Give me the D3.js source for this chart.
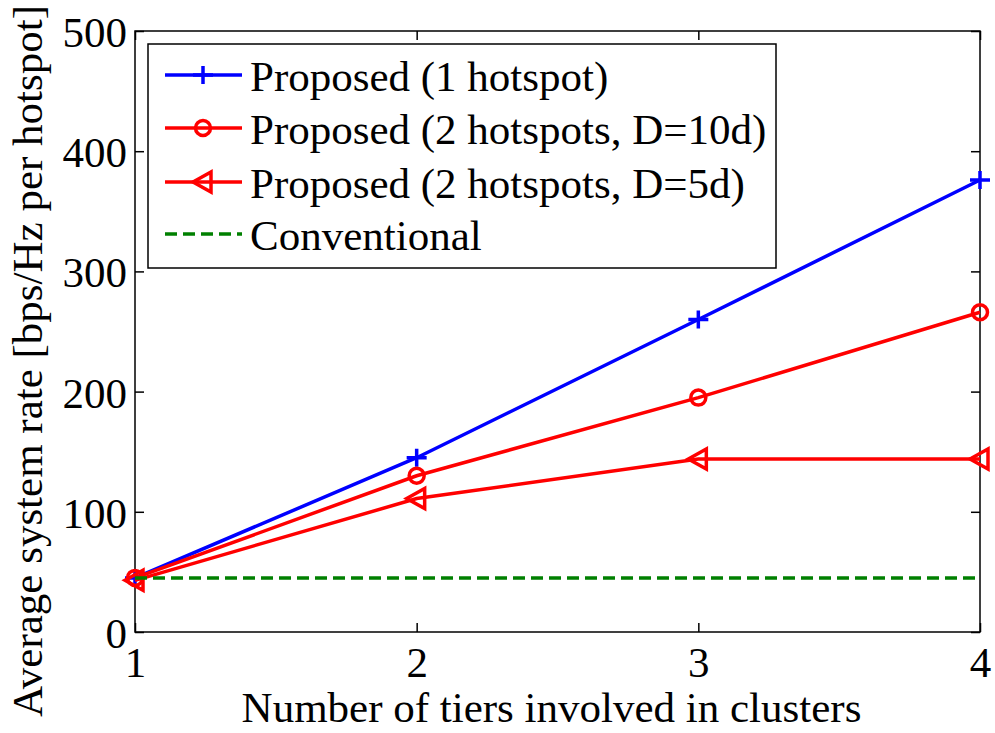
<!DOCTYPE html>
<html>
<head>
<meta charset="utf-8">
<script src="https://cdn.jsdelivr.net/npm/d3@7"></script>
<style>
  body { margin: 0; background: #fff; }
  svg { display: block; }
  text { font-family: "Liberation Serif", "Times New Roman", serif; fill: #000; }
</style>
</head>
<body>
<div id="chart"></div>
<script>
// DATA //
const tiers = [1, 2, 3, 4];
const proposed1 = [45, 145, 260, 376];
const proposed2D10 = [45, 130, 195, 266];
const proposed2D5 = [43, 111, 144, 144];
const conventional = [45, 45, 45, 45];
const yTicks = [0, 100, 200, 300, 400, 500];
const xTicks = [1, 2, 3, 4];
const legendLabels = ["Proposed (1 hotspot)", "Proposed (2 hotspots, D=10d)", "Proposed (2 hotspots, D=5d)", "Conventional"];

// DIMENSIONS //
const W = 995, H = 733;
const margin = {top: 31, right: 15, bottom: 101, left: 135};
const width = W - margin.left - margin.right,
      height = H - margin.top - margin.bottom;
const fs = 43;
const lw = 3.5;

const svg = d3.select("#chart").append("svg")
    .attr("width", W).attr("height", H);
const g = svg.append("g")
    .attr("transform", "translate(" + margin.left + "," + margin.top + ")");

// scales
const x = d3.scaleLinear().domain([1, 4]).range([0, width]);
const y = d3.scaleLinear().domain([0, 500]).range([height, 0]);

// AXES // (MATLAB style: ticks inside, box on)
const tickLen = 9;
function styleAxis(sel) {
  sel.select(".domain").remove();
  sel.selectAll(".tick line").attr("stroke", "#000").attr("stroke-width", 1.5);
  sel.selectAll(".tick text").style("font-size", fs + "px")
     .style("font-family", "'Liberation Serif', serif").attr("fill", "#000");
}
g.append("g").attr("transform", "translate(0," + height + ")")
  .call(d3.axisBottom(x).tickValues(xTicks).tickFormat(d3.format("d"))
        .tickSizeInner(-tickLen).tickSizeOuter(0).tickPadding(14))
  .call(styleAxis);
g.append("g")
  .call(d3.axisLeft(y).tickValues(yTicks).tickFormat(d3.format("d"))
        .tickSizeInner(-tickLen).tickSizeOuter(0).tickPadding(8))
  .call(styleAxis)
  .selectAll(".tick text").attr("dy", "0.36em");
g.append("g")
  .call(d3.axisTop(x).tickValues(xTicks).tickFormat("").tickSizeInner(-tickLen).tickSizeOuter(0))
  .call(styleAxis);
g.append("g").attr("transform", "translate(" + width + ",0)")
  .call(d3.axisRight(y).tickValues(yTicks).tickFormat("").tickSizeInner(-tickLen).tickSizeOuter(0))
  .call(styleAxis);

g.append("rect").attr("width", width).attr("height", height)
  .attr("fill", "none").attr("stroke", "#000").attr("stroke-width", 1.5);

// axis labels
svg.append("text")
  .attr("x", margin.left + width / 2 - 6).attr("y", 722)
  .attr("text-anchor", "middle").style("font-size", fs + "px")
  .text("Number of tiers involved in clusters");
svg.append("text")
  .attr("transform", "translate(42," + 361 + ") rotate(-90)")
  .attr("text-anchor", "middle").style("font-size", fs + "px")
  .text("Average system rate [bps/Hz per hotspot]");

// MARKERS //
function drawMarker(sel, type, color) {
  if (type === "plus") {
    sel.append("path").attr("d", "M-10,0H10M0,-9V9")
      .attr("stroke", color).attr("stroke-width", lw).attr("fill", "none");
  } else if (type === "circle") {
    sel.append("circle").attr("r", 7.5)
      .attr("stroke", color).attr("stroke-width", lw).attr("fill", "none");
  } else if (type === "triangle") {
    sel.append("path").attr("d", "M-10,0L8,-10L8,10Z")
      .attr("stroke", color).attr("stroke-width", lw).attr("fill", "none")
      .attr("stroke-linejoin", "miter");
  }
}

const series = [
  {values: proposed1, color: "#0000ff", marker: "plus", dash: null},
  {values: proposed2D10, color: "#ff0000", marker: "circle", dash: null},
  {values: proposed2D5, color: "#ff0000", marker: "triangle", dash: null},
  {values: conventional, color: "#008000", marker: null, dash: "12,6"}
];

const line = d3.line().x((d, i) => x(tiers[i])).y(d => y(d));

series.forEach(s => {
  g.append("path").datum(s.values)
    .attr("d", line).attr("fill", "none")
    .attr("stroke", s.color).attr("stroke-width", lw)
    .attr("stroke-dasharray", s.dash);
  if (s.marker) {
    s.values.forEach((v, i) => {
      const m = g.append("g").attr("transform", "translate(" + x(tiers[i]) + "," + y(v) + ")");
      drawMarker(m, s.marker, s.color);
    });
  }
});

// LEGEND //
const legend = svg.append("g");
legend.append("rect")
  .attr("x", 148).attr("y", 44).attr("width", 628).attr("height", 224)
  .attr("fill", "#fff").attr("stroke", "#000").attr("stroke-width", 1.5);
const rowY = [75, 128, 182, 234];
series.forEach((s, i) => {
  const row = legend.append("g").attr("transform", "translate(0," + rowY[i] + ")");
  row.append("line").attr("x1", 165).attr("x2", 242)
    .attr("stroke", s.color).attr("stroke-width", lw)
    .attr("stroke-dasharray", s.dash);
  if (s.marker) {
    const m = row.append("g").attr("transform", "translate(203,0)");
    drawMarker(m, s.marker, s.color);
  }
  row.append("text").attr("x", 250).attr("y", 16)
    .style("font-size", fs + "px").text(legendLabels[i]);
});
</script>
</body>
</html>
